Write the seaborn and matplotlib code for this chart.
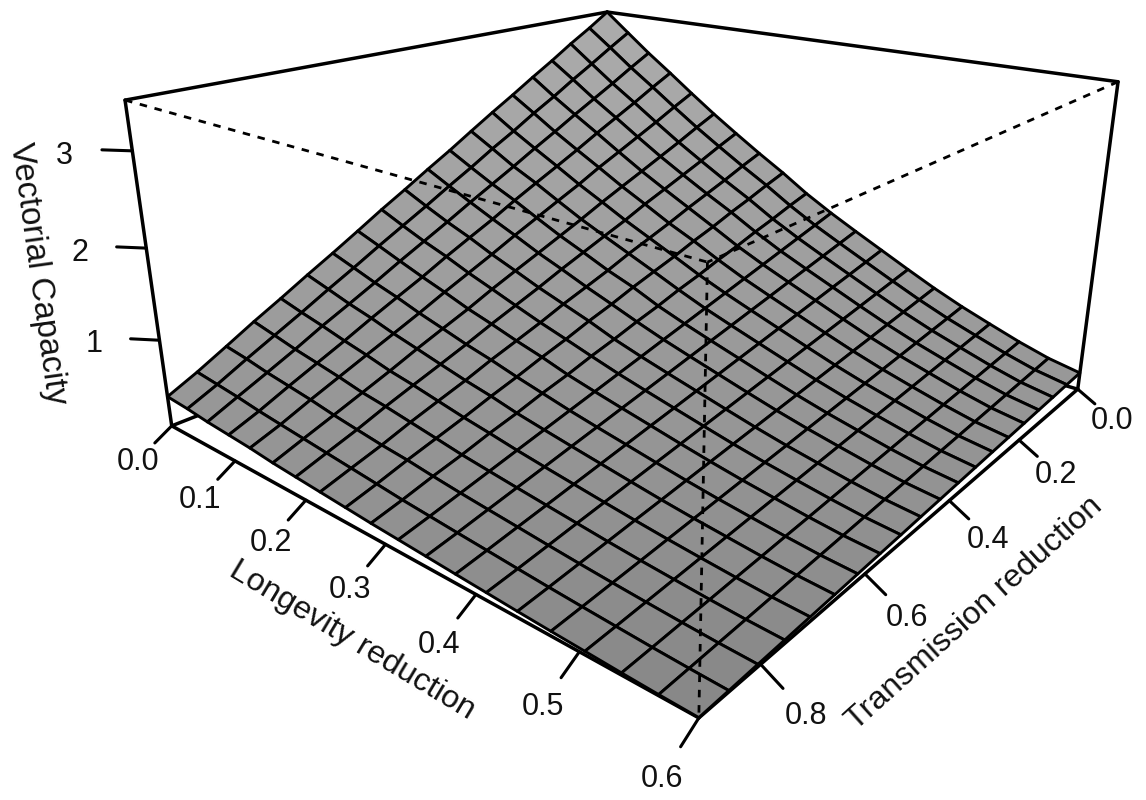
import numpy as np
import matplotlib
matplotlib.use('Agg')
import matplotlib.pyplot as plt
import seaborn as sns
from mpl_toolkits.mplot3d import proj3d

longevity = [0.000, 0.032, 0.063, 0.095, 0.126, 0.158, 0.189, 0.221, 0.253, 0.284,
             0.316, 0.347, 0.379, 0.411, 0.442, 0.474, 0.505, 0.537, 0.568, 0.600]
transmission = [0.000, 0.047, 0.095, 0.142, 0.189, 0.237, 0.284, 0.332, 0.379, 0.426,
                0.474, 0.521, 0.568, 0.616, 0.663, 0.711, 0.758, 0.805, 0.853, 0.900]
# vectorial capacity, one row per longevity value
capacity = [
    [3.50, 3.33, 3.17, 3.00, 2.84, 2.67, 2.51, 2.34, 2.17, 2.01, 1.84, 1.68, 1.51, 1.34, 1.18, 1.01, 0.85, 0.68, 0.51, 0.36],
    [3.26, 3.11, 2.95, 2.80, 2.64, 2.49, 2.33, 2.18, 2.02, 1.87, 1.71, 1.56, 1.41, 1.25, 1.10, 0.94, 0.79, 0.64, 0.48, 0.34],
    [3.03, 2.89, 2.74, 2.60, 2.46, 2.31, 2.17, 2.02, 1.88, 1.74, 1.59, 1.45, 1.31, 1.16, 1.02, 0.88, 0.73, 0.59, 0.45, 0.31],
    [2.81, 2.68, 2.54, 2.41, 2.28, 2.14, 2.01, 1.88, 1.75, 1.61, 1.48, 1.35, 1.21, 1.08, 0.95, 0.81, 0.68, 0.55, 0.41, 0.29],
    [2.59, 2.47, 2.34, 2.22, 2.10, 1.98, 1.85, 1.73, 1.61, 1.49, 1.36, 1.24, 1.12, 0.99, 0.87, 0.75, 0.63, 0.51, 0.38, 0.27],
    [2.37, 2.26, 2.14, 2.03, 1.92, 1.81, 1.70, 1.58, 1.47, 1.36, 1.25, 1.14, 1.02, 0.91, 0.80, 0.68, 0.57, 0.46, 0.35, 0.24],
    [2.17, 2.07, 1.96, 1.86, 1.76, 1.66, 1.55, 1.45, 1.35, 1.25, 1.14, 1.04, 0.94, 0.83, 0.73, 0.63, 0.53, 0.42, 0.32, 0.22],
    [1.97, 1.88, 1.78, 1.69, 1.60, 1.50, 1.41, 1.32, 1.22, 1.13, 1.04, 0.94, 0.85, 0.76, 0.66, 0.57, 0.48, 0.38, 0.29, 0.20],
    [1.78, 1.70, 1.61, 1.53, 1.44, 1.36, 1.27, 1.19, 1.11, 1.02, 0.94, 0.85, 0.77, 0.68, 0.60, 0.51, 0.43, 0.35, 0.26, 0.18],
    [1.58, 1.51, 1.43, 1.36, 1.28, 1.21, 1.13, 1.06, 0.98, 0.91, 0.83, 0.76, 0.68, 0.61, 0.53, 0.46, 0.38, 0.31, 0.23, 0.16],
    [1.400, 1.334, 1.267, 1.201, 1.135, 1.068, 1.002, 0.935, 0.869, 0.804, 0.736, 0.671, 0.605, 0.538, 0.472, 0.405, 0.339, 0.273, 0.206, 0.144],
    [1.240, 1.182, 1.122, 1.064, 1.006, 0.946, 0.888, 0.828, 0.770, 0.712, 0.652, 0.594, 0.536, 0.476, 0.418, 0.358, 0.300, 0.242, 0.182, 0.128],
    [1.080, 1.029, 0.977, 0.927, 0.876, 0.824, 0.773, 0.721, 0.671, 0.620, 0.568, 0.517, 0.467, 0.415, 0.364, 0.312, 0.261, 0.211, 0.159, 0.111],
    [0.920, 0.877, 0.833, 0.789, 0.746, 0.702, 0.659, 0.615, 0.571, 0.528, 0.484, 0.441, 0.397, 0.353, 0.310, 0.266, 0.223, 0.179, 0.135, 0.095],
    [0.770, 0.734, 0.697, 0.661, 0.624, 0.588, 0.551, 0.514, 0.478, 0.442, 0.405, 0.369, 0.333, 0.296, 0.259, 0.223, 0.186, 0.150, 0.113, 0.079],
    [0.630, 0.600, 0.570, 0.541, 0.511, 0.481, 0.451, 0.421, 0.391, 0.362, 0.331, 0.302, 0.272, 0.242, 0.212, 0.182, 0.152, 0.123, 0.093, 0.065],
    [0.510, 0.486, 0.462, 0.438, 0.414, 0.389, 0.365, 0.341, 0.317, 0.293, 0.268, 0.244, 0.220, 0.196, 0.172, 0.147, 0.123, 0.099, 0.075, 0.053],
    [0.390, 0.372, 0.353, 0.335, 0.316, 0.298, 0.279, 0.261, 0.242, 0.224, 0.205, 0.187, 0.168, 0.150, 0.131, 0.113, 0.094, 0.076, 0.057, 0.040],
    [0.290, 0.276, 0.262, 0.249, 0.235, 0.221, 0.208, 0.194, 0.180, 0.166, 0.153, 0.139, 0.125, 0.111, 0.098, 0.084, 0.070, 0.057, 0.043, 0.030],
    [0.220, 0.210, 0.199, 0.189, 0.178, 0.168, 0.158, 0.147, 0.137, 0.126, 0.116, 0.105, 0.095, 0.084, 0.074, 0.064, 0.053, 0.043, 0.032, 0.023],
]

long_ticks = [0.0, 0.1, 0.2, 0.3, 0.4, 0.5, 0.6]
trans_ticks = [0.0, 0.2, 0.4, 0.6, 0.8]
cap_ticks = [1, 2, 3]
z_low, z_high = 0.02, 3.5

sns.set_theme(style='white')
plt.rcParams['font.family'] = ['Liberation Sans', 'DejaVu Sans']
ink = '#111111'

fig = plt.figure(figsize=(11.46, 8), dpi=100)
ax = fig.add_subplot(projection='3d', computed_zorder=False)
ax.set_position([0, 0, 1, 1])
ax.apply_aspect = lambda position=None: None  # keep the whole figure as axes box
ax.set_axis_off()

# camera: fitted from where the box corners sit in the picture (R persp look)
x0, x1, y0, y1 = 0.0, 0.6, 0.0, 0.9
corners3d = [(x0, y1, z_low), (x1, y1, z_low), (x1, y0, z_low),
             (x0, y1, z_high), (x0, y0, z_high), (x1, y0, z_high), (x1, y1, z_high)]
corners_px = [(172, 426), (698, 718), (1078, 389),
              (125, 100), (607, 12), (1118, 82), (708, 262)]
uv = ax.transData.inverted().transform([(px, 800 - py) for px, py in corners_px])
rows, rhs = [], []
for (X, Y, Z), (u, v) in zip(corners3d, uv):
    rows.append([X, Y, Z, 1, 0, 0, 0, 0, -u * X, -u * Y, -u * Z])
    rhs.append(u)
    rows.append([0, 0, 0, 0, X, Y, Z, 1, -v * X, -v * Y, -v * Z])
    rhs.append(v)
p = np.linalg.lstsq(np.array(rows), np.array(rhs), rcond=None)[0]
P = np.append(p, 1.0).reshape(3, 4)
# depth row stays negative everywhere or Line3D drops the points
M = np.vstack([P[0], P[1], P[2] - 10 * np.array([0, 0, 0, 1.0]), P[2]])
ax.get_proj = lambda: M
ax.M = M

L, T = np.meshgrid(longevity, transmission, indexing='ij')
Z = np.array(capacity)

# shade runs with height on the page, lighter at the far corner
h = P[1, 0] * L + P[1, 1] * T + P[1, 2] * Z + P[1, 3]
w = P[2, 0] * L + P[2, 1] * T + P[2, 2] * Z + P[2, 3]
v = h / w
cmap = sns.blend_palette(['#858585', '#ababab'], as_cmap=True)
faces = cmap((v - v.min()) / (v.max() - v.min()))

lw_box = 2.5
lw_tick = 2.2
# box edges behind the surface
for a, b in [((x0, y1), (x1, y1)), ((x1, y1), (x1, y0)), ((x0, y1), (x0, y0)), ((x1, y0), (x0, y0))]:
    ax.plot([a[0], b[0]], [a[1], b[1]], [z_low, z_low], color='black', lw=lw_box, zorder=1)
for a, b in [((x0, y1), (x0, y0)), ((x0, y0), (x1, y0))]:
    ax.plot([a[0], b[0]], [a[1], b[1]], [z_high, z_high], color='black', lw=lw_box, zorder=1)
for xc, yc in [(x0, y1), (x1, y0), (x0, y0)]:
    ax.plot([xc, xc], [yc, yc], [z_low, z_high], color='black', lw=lw_box, zorder=1)

ax.plot_surface(L, T, Z, rstride=1, cstride=1, facecolors=faces, edgecolor='black',
                linewidth=2.1, shade=False, antialiased=True, zorder=2)

# hidden box edges, dashed over the surface
for xs, ys, zs in [((x0, x1), (y1, y1), (z_high, z_high)),
                   ((x1, x1), (y0, y1), (z_high, z_high)),
                   ((x1, x1), (y1, y1), (z_high, z_low))]:
    ax.plot(xs, ys, zs, color='black', lw=2.0, ls=(0, (2.7, 2.8)), zorder=3)


def label3d(x, y, z, s):
    u, v, _ = proj3d.proj_transform(x, y, z, M)
    ax.text2D(u, v, s, transform=ax.transData, fontsize=22, ha='center', va='center', color=ink)


# ticks lean down a little as well as outwards, labels sit at twice the tick
dx, dy, dz = 0.018, 0.027, 0.115
cx, cy = 0.0224, 0.022
for t in long_ticks:
    ax.plot([t, t], [y1, y1 + dy], [z_low, z_low - dz], color='black', lw=lw_tick, zorder=1)
    label3d(t, y1 + 2 * dy, z_low - 2 * dz - 0.025, f'{t:.1f}')
for t in trans_ticks:
    ax.plot([x1, x1 + dx], [t, t], [z_low, z_low - dz], color='black', lw=lw_tick, zorder=1)
    label3d(x1 + 2 * dx, t, z_low - 2 * dz - 0.025, f'{t:.1f}')
for t in cap_ticks:
    ax.plot([x0, x0 - cx], [y1, y1 + cy], [t, t], color='black', lw=lw_tick, zorder=1)
    label3d(x0 - 2.3 * cx, y1 + 2.3 * cy, t - 0.08, f'{t}')

fig.text(352 / 1146, 1 - 640 / 800, 'Longevity reduction', fontsize=23.3, rotation=-31,
         ha='center', va='center', rotation_mode='anchor', color=ink)
fig.text(974 / 1146, 1 - 614 / 800, 'Transmission reduction', fontsize=23.3, rotation=42,
         ha='center', va='center', rotation_mode='anchor', color=ink)
fig.text(38 / 1146, 1 - 274 / 800, 'Vectorial Capacity', fontsize=23.8, rotation=-82,
         ha='center', va='center', rotation_mode='anchor', color=ink)

fig.savefig('out.png', dpi=100)
